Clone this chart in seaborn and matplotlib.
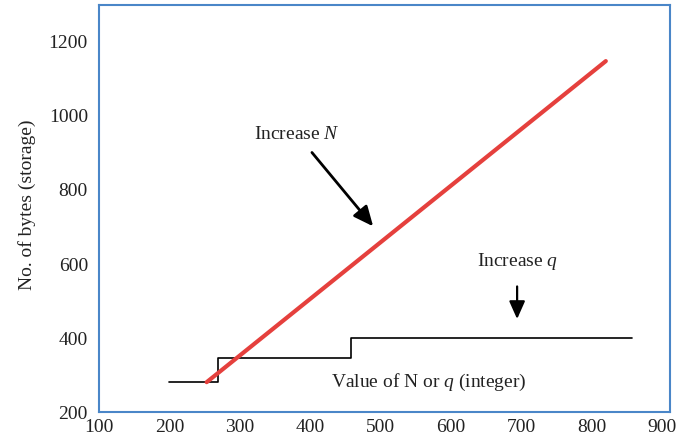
import matplotlib
matplotlib.use("Agg")
import matplotlib.pyplot as plt
import seaborn as sns
import pandas as pd

# data
n_x = [253, 820]
n_bytes = [281, 1148]
q_x = [200, 269, 458, 857]
q_bytes = [281, 346, 400, 400]
x_ticks = [100, 200, 300, 400, 500, 600, 700, 800, 900]
y_ticks = [200, 400, 600, 800, 1000, 1200]

sns.set_theme(style="white")
plt.rcParams['font.family'] = ['Liberation Serif', 'DejaVu Serif']
plt.rcParams['mathtext.fontset'] = 'custom'
plt.rcParams['mathtext.it'] = 'Liberation Serif:italic'

blue = "#4a86c8"
fs = 14

fig = plt.figure(figsize=(6.78, 4.38), dpi=100)
ax = fig.add_axes([0.146, 0.059, 0.842, 0.930])

df_n = pd.DataFrame({"x": n_x, "y": n_bytes})
df_q = pd.DataFrame({"x": q_x, "y": q_bytes})
sns.lineplot(data=df_q, x="x", y="y", ax=ax, color="black", lw=1.2,
             drawstyle="steps-post")
sns.lineplot(data=df_n, x="x", y="y", ax=ax, color="#e5403d", lw=3.0)

ax.set_xlim(100, 911)
ax.set_ylim(200, 1300)
ax.set_xticks(x_ticks)
ax.set_yticks(y_ticks)
ax.tick_params(axis="both", direction="in", length=7, width=1.8, color=blue,
               labelsize=fs, labelcolor="#222222")
ax.tick_params(axis="x", pad=5)
ax.tick_params(axis="y", pad=8)
for s in ax.spines.values():
    s.set_color(blue)
    s.set_linewidth(1.5)

ax.set_xlabel("")
ax.set_ylabel("No. of bytes (storage)", fontsize=fs, color="#222222")
ax.yaxis.set_label_coords(-0.111, 0.51)

ax.text(569, 279, "Value of N or $q$ (integer)", ha="center", va="center",
        fontsize=fs, color="#222222")
ax.text(381, 951, "Increase $N$", ha="center", va="center",
        fontsize=fs, color="#222222")
ax.annotate("", xy=(492, 696), xytext=(400, 907),
            arrowprops=dict(arrowstyle="-|>,head_length=1.0,head_width=0.45",
                            color="black", lw=2))
ax.text(694, 606, "Increase $q$", ha="center", va="center",
        fontsize=fs, color="#222222")
ax.annotate("", xy=(694, 444), xytext=(694, 547),
            arrowprops=dict(arrowstyle="-|>,head_length=0.9,head_width=0.4",
                            color="black", lw=1.6))

fig.savefig("out.png", dpi=100)
